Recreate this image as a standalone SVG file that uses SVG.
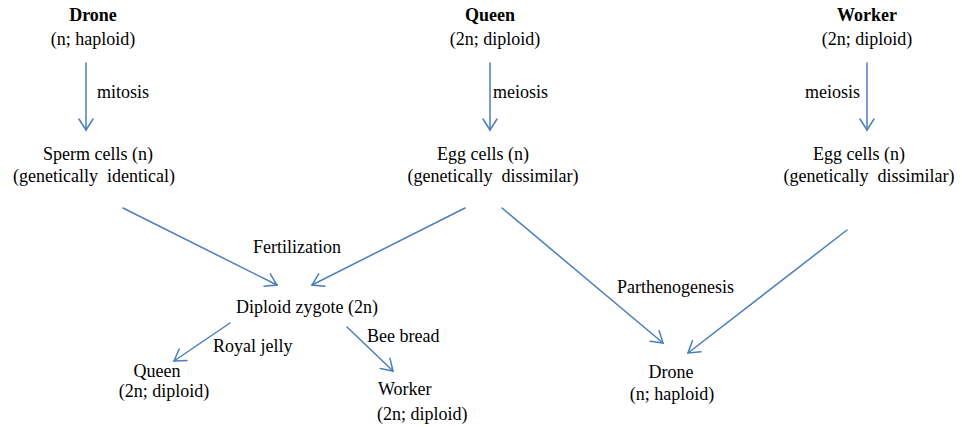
<svg xmlns="http://www.w3.org/2000/svg" width="963" height="427" viewBox="0 0 963 427">
  <rect width="963" height="427" fill="#ffffff"/>

  <!-- connectors: blue lines, each ending in an open chevron head -->
  <g id="connectors" stroke="#4a7ebb" stroke-width="1.5" fill="none" stroke-linecap="round" stroke-linejoin="miter">
    <line x1="86" y1="63" x2="86" y2="130"/>
    <polyline points="79,119 86,130 93,119"/>
    <line x1="490" y1="63" x2="490" y2="130"/>
    <polyline points="483,119 490,130 497,119"/>
    <line x1="867" y1="63" x2="867" y2="130"/>
    <polyline points="860,119 867,130 874,119"/>
    <line x1="123" y1="208" x2="277" y2="285"/>
    <polyline points="270.3,273.8 277,285 264,286.3"/>
    <line x1="465" y1="208" x2="312" y2="285"/>
    <polyline points="318.7,273.8 312,285 325,286.3"/>
    <line x1="502" y1="208" x2="663" y2="343"/>
    <polyline points="650.1,341.3 663,343 659.1,330.6"/>
    <line x1="847" y1="230" x2="688" y2="353"/>
    <polyline points="692.4,340.7 688,353 701,351.8"/>
    <line x1="230" y1="323" x2="174" y2="361"/>
    <polyline points="179.2,349 174,361 187,360.6"/>
    <line x1="347" y1="327" x2="393" y2="371"/>
    <polyline points="380.2,368.4 393,371 389.9,358.3"/>
  </g>

  <!-- connector labels -->
  <g id="labels">
    <text x="97" y="98" font-family="Liberation Serif, serif" font-size="18">mitosis</text>
    <text x="493" y="98" font-family="Liberation Serif, serif" font-size="18">meiosis</text>
    <text x="860" y="98" font-family="Liberation Serif, serif" font-size="18" text-anchor="end">meiosis</text>
    <text x="253" y="253" font-family="Liberation Serif, serif" font-size="18">Fertilization</text>
    <text x="617" y="293" font-family="Liberation Serif, serif" font-size="18">Parthenogenesis</text>
    <text x="213" y="352" font-family="Liberation Serif, serif" font-size="18">Royal jelly</text>
    <text x="367" y="342" font-family="Liberation Serif, serif" font-size="18">Bee bread</text>
  </g>

  <g id="drone-parent">
    <text x="93" y="21" font-family="Liberation Serif, serif" font-size="18" font-weight="bold" text-anchor="middle">Drone</text>
    <text x="93" y="45" font-family="Liberation Serif, serif" font-size="18" text-anchor="middle">(n; haploid)</text>
  </g>
  <g id="queen-parent">
    <text x="490" y="21" font-family="Liberation Serif, serif" font-size="18" font-weight="bold" text-anchor="middle">Queen</text>
    <text x="495" y="45" font-family="Liberation Serif, serif" font-size="18" text-anchor="middle">(2n; diploid)</text>
  </g>
  <g id="worker-parent">
    <text x="867" y="21" font-family="Liberation Serif, serif" font-size="18" font-weight="bold" text-anchor="middle">Worker</text>
    <text x="867" y="45" font-family="Liberation Serif, serif" font-size="18" text-anchor="middle">(2n; diploid)</text>
  </g>
  <g id="sperm-cells">
    <text x="98" y="160" font-family="Liberation Serif, serif" font-size="18" text-anchor="middle">Sperm cells (n)</text>
    <text x="94" y="182" font-family="Liberation Serif, serif" font-size="18" text-anchor="middle">(genetically&#160; identical)</text>
  </g>
  <g id="queen-eggs">
    <text x="483" y="160" font-family="Liberation Serif, serif" font-size="18" text-anchor="middle">Egg cells (n)</text>
    <text x="493" y="182" font-family="Liberation Serif, serif" font-size="18" text-anchor="middle">(genetically&#160; dissimilar)</text>
  </g>
  <g id="worker-eggs">
    <text x="859" y="160" font-family="Liberation Serif, serif" font-size="18" text-anchor="middle">Egg cells (n)</text>
    <text x="869" y="182" font-family="Liberation Serif, serif" font-size="18" text-anchor="middle">(genetically&#160; dissimilar)</text>
  </g>
  <g id="zygote">
    <text x="307" y="313" font-family="Liberation Serif, serif" font-size="18" text-anchor="middle">Diploid zygote (2n)</text>
  </g>
  <g id="queen-offspring">
    <text x="157" y="377" font-family="Liberation Serif, serif" font-size="18" text-anchor="middle">Queen</text>
    <text x="164" y="397" font-family="Liberation Serif, serif" font-size="18" text-anchor="middle">(2n; diploid)</text>
  </g>
  <g id="worker-offspring">
    <text x="378" y="395" font-family="Liberation Serif, serif" font-size="18">Worker</text>
    <text x="377" y="420" font-family="Liberation Serif, serif" font-size="18">(2n; diploid)</text>
  </g>
  <g id="drone-offspring">
    <text x="671" y="378" font-family="Liberation Serif, serif" font-size="18" text-anchor="middle">Drone</text>
    <text x="672" y="400" font-family="Liberation Serif, serif" font-size="18" text-anchor="middle">(n; haploid)</text>
  </g>
</svg>
